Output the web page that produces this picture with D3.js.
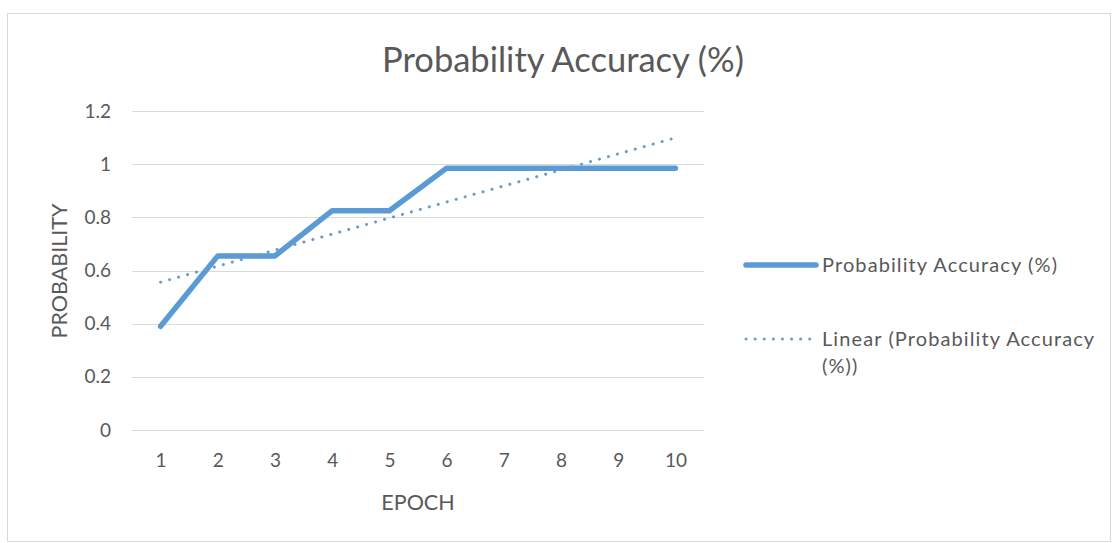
<!DOCTYPE html>
<html>
<head>
<meta charset="utf-8">
<script src="https://cdn.jsdelivr.net/npm/d3@7"></script>
<style>
  html, body { margin: 0; padding: 0; background: #fff; }
  svg { display: block; }
  text { font-family: Lato, "Open Sans", sans-serif; fill: #595959; }
</style>
</head>
<body>
<svg id="chart" width="1113" height="543"></svg>
<script>
// ---- data ----
const epochs = [1, 2, 3, 4, 5, 6, 7, 8, 9, 10];
const accuracy = [0.39, 0.655, 0.655, 0.825, 0.825, 0.985, 0.985, 0.985, 0.985, 0.985];
const yTicks = [0, 0.2, 0.4, 0.6, 0.8, 1, 1.2];
const chartTitle = "Probability Accuracy (%)";
const xTitle = "EPOCH";
const yTitle = "PROBABILITY";
const seriesName = "Probability Accuracy (%)";
const trendName = ["Linear (Probability Accuracy", "(%))"];

const color = "#5B9BD5";
const trendColor = "#6a9cc8";
const font = "Lato, 'Open Sans', sans-serif";
const svg = d3.select("#chart");

// chart border
svg.append("rect").attr("x", 7.5).attr("y", 13.5).attr("width", 1103).attr("height", 528)
  .attr("fill", "#fff").attr("stroke", "#d9d9d9").attr("stroke-width", 1);

const plot = { left: 132, right: 704, top: 111, bottom: 430 };

const x = d3.scalePoint().domain(epochs).range([plot.left, plot.right]).padding(0.5);
const y = d3.scaleLinear().domain([0, 1.2]).range([plot.bottom, plot.top]);

// gridlines
svg.append("g").selectAll("line").data(yTicks).join("line")
  .attr("x1", plot.left).attr("x2", plot.right)
  .attr("y1", d => Math.round(y(d)) + 0.5).attr("y2", d => Math.round(y(d)) + 0.5)
  .attr("stroke", "#d9d9d9").attr("stroke-width", 1);

// y axis labels
const yAxis = d3.axisLeft(y).tickValues(yTicks).tickSize(0).tickPadding(0)
  .tickFormat(d => d3.format("~g")(d));
const gy = svg.append("g").attr("transform", `translate(111,0)`).call(yAxis);
gy.select(".domain").remove();
gy.selectAll("text").style("font-size", "19px").attr("fill", "#595959").style("font-family", font);

// x axis labels
const xAxis = d3.axisBottom(x).tickSize(0).tickPadding(0);
const gx = svg.append("g").attr("transform", `translate(0,453)`).call(xAxis);
gx.select(".domain").remove();
gx.selectAll("text").style("font-size", "19px").attr("fill", "#595959").style("font-family", font);

// linear trendline (least squares from data)
const n = epochs.length;
const mx = d3.mean(epochs), my = d3.mean(accuracy);
const sxy = d3.sum(epochs, (e, i) => (e - mx) * (accuracy[i] - my));
const sxx = d3.sum(epochs, e => (e - mx) * (e - mx));
const slope = sxy / sxx, intercept = my - slope * mx;
const trend = [epochs[0], epochs[n - 1]].map(e => [e, intercept + slope * e]);

const lineGen = d3.line().x(d => x(d[0])).y(d => y(d[1]));

svg.append("path").datum(epochs.map((e, i) => [e, accuracy[i]]))
  .attr("d", lineGen).attr("fill", "none").attr("stroke", color)
  .attr("stroke-width", 5.5).attr("stroke-linejoin", "round").attr("stroke-linecap", "round");

svg.append("path").datum(trend)
  .attr("d", lineGen).attr("fill", "none").attr("stroke", trendColor)
  .attr("stroke-width", 3).attr("stroke-dasharray", "0.1 9.2").attr("stroke-linecap", "round");

// title
svg.append("text").attr("x", 563).attr("y", 72).attr("text-anchor", "middle")
  .style("font-size", "34.5px").text(chartTitle);

// axis titles
svg.append("text").attr("x", 418).attr("y", 510).attr("text-anchor", "middle")
  .style("font-size", "21.5px").text(xTitle);
svg.append("text").attr("transform", "translate(67,271) rotate(-90)").attr("text-anchor", "middle")
  .style("font-size", "21.5px").text(yTitle);

// legend
const lg = svg.append("g");
lg.append("line").attr("x1", 746).attr("x2", 816).attr("y1", 265).attr("y2", 265)
  .attr("stroke", color).attr("stroke-width", 5.5).attr("stroke-linecap", "round");
lg.append("text").attr("x", 822).attr("y", 272).style("font-size", "20px")
  .style("letter-spacing", "1.1px").text(seriesName);
lg.append("line").attr("x1", 746).attr("x2", 816).attr("y1", 339).attr("y2", 339)
  .attr("stroke", trendColor).attr("stroke-width", 3).attr("stroke-dasharray", "0.1 9").attr("stroke-linecap", "round");
lg.append("text").attr("x", 822).attr("y", 346).style("font-size", "20px")
  .style("letter-spacing", "1.1px").text(trendName[0]);
lg.append("text").attr("x", 822).attr("y", 373).style("font-size", "20px")
  .style("letter-spacing", "1.1px").text(trendName[1]);
</script>
</body>
</html>
